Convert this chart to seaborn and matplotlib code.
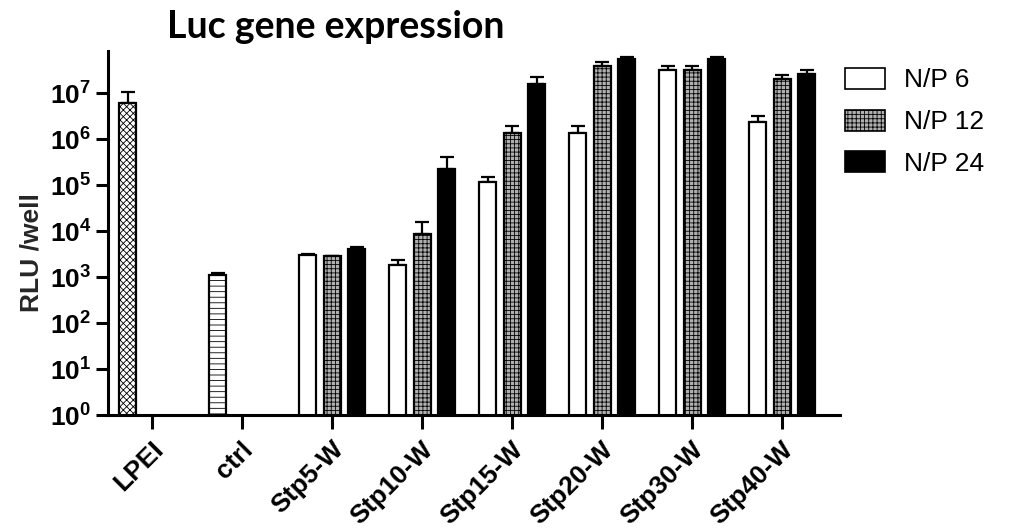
import numpy as np
import pandas as pd
import matplotlib
matplotlib.use("Agg")
import matplotlib.pyplot as plt
from matplotlib.patches import Patch
import matplotlib.transforms as mtransforms
import seaborn as sns

# ---- data ----
categories = ["LPEI", "ctrl", "Stp5-W", "Stp10-W", "Stp15-W", "Stp20-W", "Stp30-W", "Stp40-W"]
series = ["N/P 6", "N/P 12", "N/P 24"]
# mean RLU/well (NaN = not measured)
np6 = [6.0e6, 1.1e3, 3.0e3, 1.8e3, 1.14e5, 1.33e6, 3.2e7, 2.4e6]
np12 = [np.nan, np.nan, 2.8e3, 8.5e3, 1.33e6, 3.9e7, 3.2e7, 2.0e7]
np24 = [np.nan, np.nan, 4.0e3, 2.2e5, 1.6e7, 5.5e7, 5.5e7, 2.6e7]
# upper end of error bars
np6_hi = [1.07e7, 1.2e3, 3.2e3, 2.4e3, 1.5e5, 1.95e6, 3.9e7, 3.2e6]
np12_hi = [np.nan, np.nan, 2.9e3, 1.55e4, 1.95e6, 4.8e7, 3.9e7, 2.5e7]
np24_hi = [np.nan, np.nan, 4.4e3, 4.1e5, 2.2e7, 6.2e7, 6.2e7, 3.2e7]
ytick_exponents = [0, 1, 2, 3, 4, 5, 6, 7]

rows = []
for s, vals, his in zip(series, [np6, np12, np24], [np6_hi, np12_hi, np24_hi]):
    for c, v, h in zip(categories, vals, his):
        if not np.isnan(v):
            rows.append({"group": c, "NP": s, "RLU": v, "hi": h})
df = pd.DataFrame(rows)

sns.set_theme(style="ticks")
plt.rcParams["font.family"] = ["Liberation Sans", "DejaVu Sans"]
plt.rcParams["mathtext.fontset"] = "custom"
plt.rcParams["mathtext.rm"] = "Liberation Sans:bold"
plt.rcParams["mathtext.bf"] = "Liberation Sans:bold"
plt.rcParams["hatch.linewidth"] = 0.6
plt.rcParams["text.color"] = "black"
plt.rcParams["xtick.color"] = "black"
plt.rcParams["ytick.color"] = "black"

fig = plt.figure(figsize=(10.12, 5.29), dpi=100)
ax = fig.add_axes([0.1067, 0.2155, 0.7233, 0.6881])

sns.barplot(data=df, x="group", y="RLU", hue="NP", order=categories,
            hue_order=series, width=0.816, gap=0.3, errorbar=None,
            ax=ax, legend=False)
ax.set_yscale("log", nonpositive="clip")

styles = {
    "N/P 6": dict(facecolor="white", hatch=None),
    "N/P 12": dict(facecolor="#b0b0b0", hatch="++++"),
    "N/P 24": dict(facecolor="black", hatch=None),
}
special = {
    "LPEI": dict(facecolor="white", hatch="xxxxx"),
    "ctrl": dict(facecolor="white", hatch="---"),
}

for cont, s in zip(ax.containers, series):
    for bar in cont:
        h = bar.get_height()
        if not np.isfinite(h) or h <= 0:
            continue
        xc = bar.get_x() + bar.get_width() / 2
        cat = categories[int(round(xc))]
        st = special.get(cat, styles[s]) if s == "N/P 6" else styles[s]
        bar.set_facecolor(st["facecolor"])
        bar.set_hatch(st["hatch"])
        bar.set_edgecolor("black")
        bar.set_linewidth(1.6)
        bar.set_zorder(2)
        hi = df[(df.group == cat) & (df.NP == s)]["hi"].iloc[0]
        ax.errorbar([xc], [h], yerr=[[0], [hi - h]], fmt="none",
                    ecolor="black", elinewidth=1.6, capsize=5, capthick=1.6,
                    zorder=1)

ax.set_ylim(1, 8.2e7)
ax.set_xlim(-0.49, 7.64)
ax.set_yticks([10.0 ** e for e in ytick_exponents])
ax.set_yticklabels([r"$\mathbf{10^{%d}}$" % e for e in ytick_exponents])
ax.yaxis.set_minor_locator(matplotlib.ticker.NullLocator())
ax.tick_params(axis="y", which="major", length=9, width=2.2, labelsize=19, pad=3)
ax.tick_params(axis="x", which="major", length=10, width=2.2, pad=6)
ax.set_xticks(range(len(categories)))
ax.set_xticklabels(categories, rotation=45, ha="right", rotation_mode="anchor",
                   fontsize=19, fontweight="bold")
offset = mtransforms.ScaledTranslation(-1 / 100, 0, fig.dpi_scale_trans)
for lab in ax.get_xticklabels():
    lab.set_transform(lab.get_transform() + offset)
for side in ["top", "right"]:
    ax.spines[side].set_visible(False)
for side in ["left", "bottom"]:
    ax.spines[side].set_linewidth(2.2)
    ax.spines[side].set_color("black")
ax.set_xlabel("")
ax.set_ylabel("RLU /well", fontsize=19, fontweight="bold")
ax.yaxis.set_label_coords(-0.088, 0.445)

handles = [Patch(facecolor=styles[s]["facecolor"], hatch=styles[s]["hatch"],
                 edgecolor="black", linewidth=1.2, label=s) for s in series]
fig.legend(handles=handles, loc="upper left", bbox_to_anchor=(0.835, 0.872),
           frameon=False, fontsize=19, handlelength=1.5, handleheight=0.85,
           handletextpad=0.75, labelspacing=0.65, borderaxespad=0, borderpad=0)

fig.text(0.332, 0.949, "Luc gene expression", fontsize=27, fontweight="bold",
         family=["Lato", "DejaVu Sans"], ha="center", va="center")

fig.savefig("out.png", dpi=100)
